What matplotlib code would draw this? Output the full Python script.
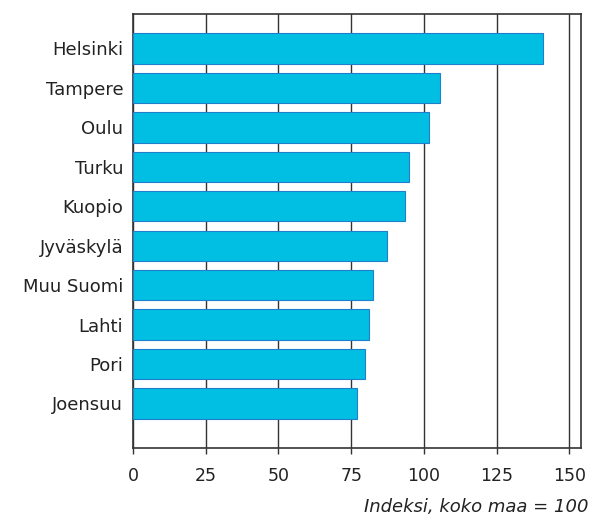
import numpy as np
from matplotlib import pyplot as plt

cities = ['Helsinki', 'Tampere', 'Oulu', 'Turku', 'Kuopio', 'Jyväskylä',
          'Muu Suomi', 'Lahti', 'Pori', 'Joensuu']
values = [141, 105.6, 101.8, 95, 93.6, 87.4, 82.6, 81.2, 79.6, 76.9]
xticks = [0, 25, 50, 75, 100, 125, 150]

fig = plt.figure(figsize=(5.9, 5.18), dpi=100)
ax = fig.add_axes([0.2254, 0.1351, 0.7593, 0.8379])

y = np.arange(len(cities))
ax.barh(y, values, height=0.77, color='#00bfe3', edgecolor='#1f7fcc', linewidth=0.8, zorder=3)

ax.set_xlim(0, 154)
ax.set_ylim(10.13, -0.875)
ax.set_xticks(xticks)
ax.set_xticklabels([str(t) for t in xticks], fontsize=12.5, color='#222222')
ax.set_yticks(y)
ax.set_yticklabels(cities, fontsize=13, color='#222222')
ax.tick_params(axis='y', length=0, pad=7)
ax.tick_params(axis='x', length=4, width=1, color='#333333', pad=10)
ax.grid(axis='x', color='#333333', linewidth=1, zorder=1)
for s in ax.spines.values():
    s.set_color('#333333')
    s.set_linewidth(1.2)

fig.text(0.997, 0.004, 'Indeksi, koko maa = 100', ha='right', va='bottom',
         fontsize=13, style='italic', color='#222222')

plt.savefig('out.png')
